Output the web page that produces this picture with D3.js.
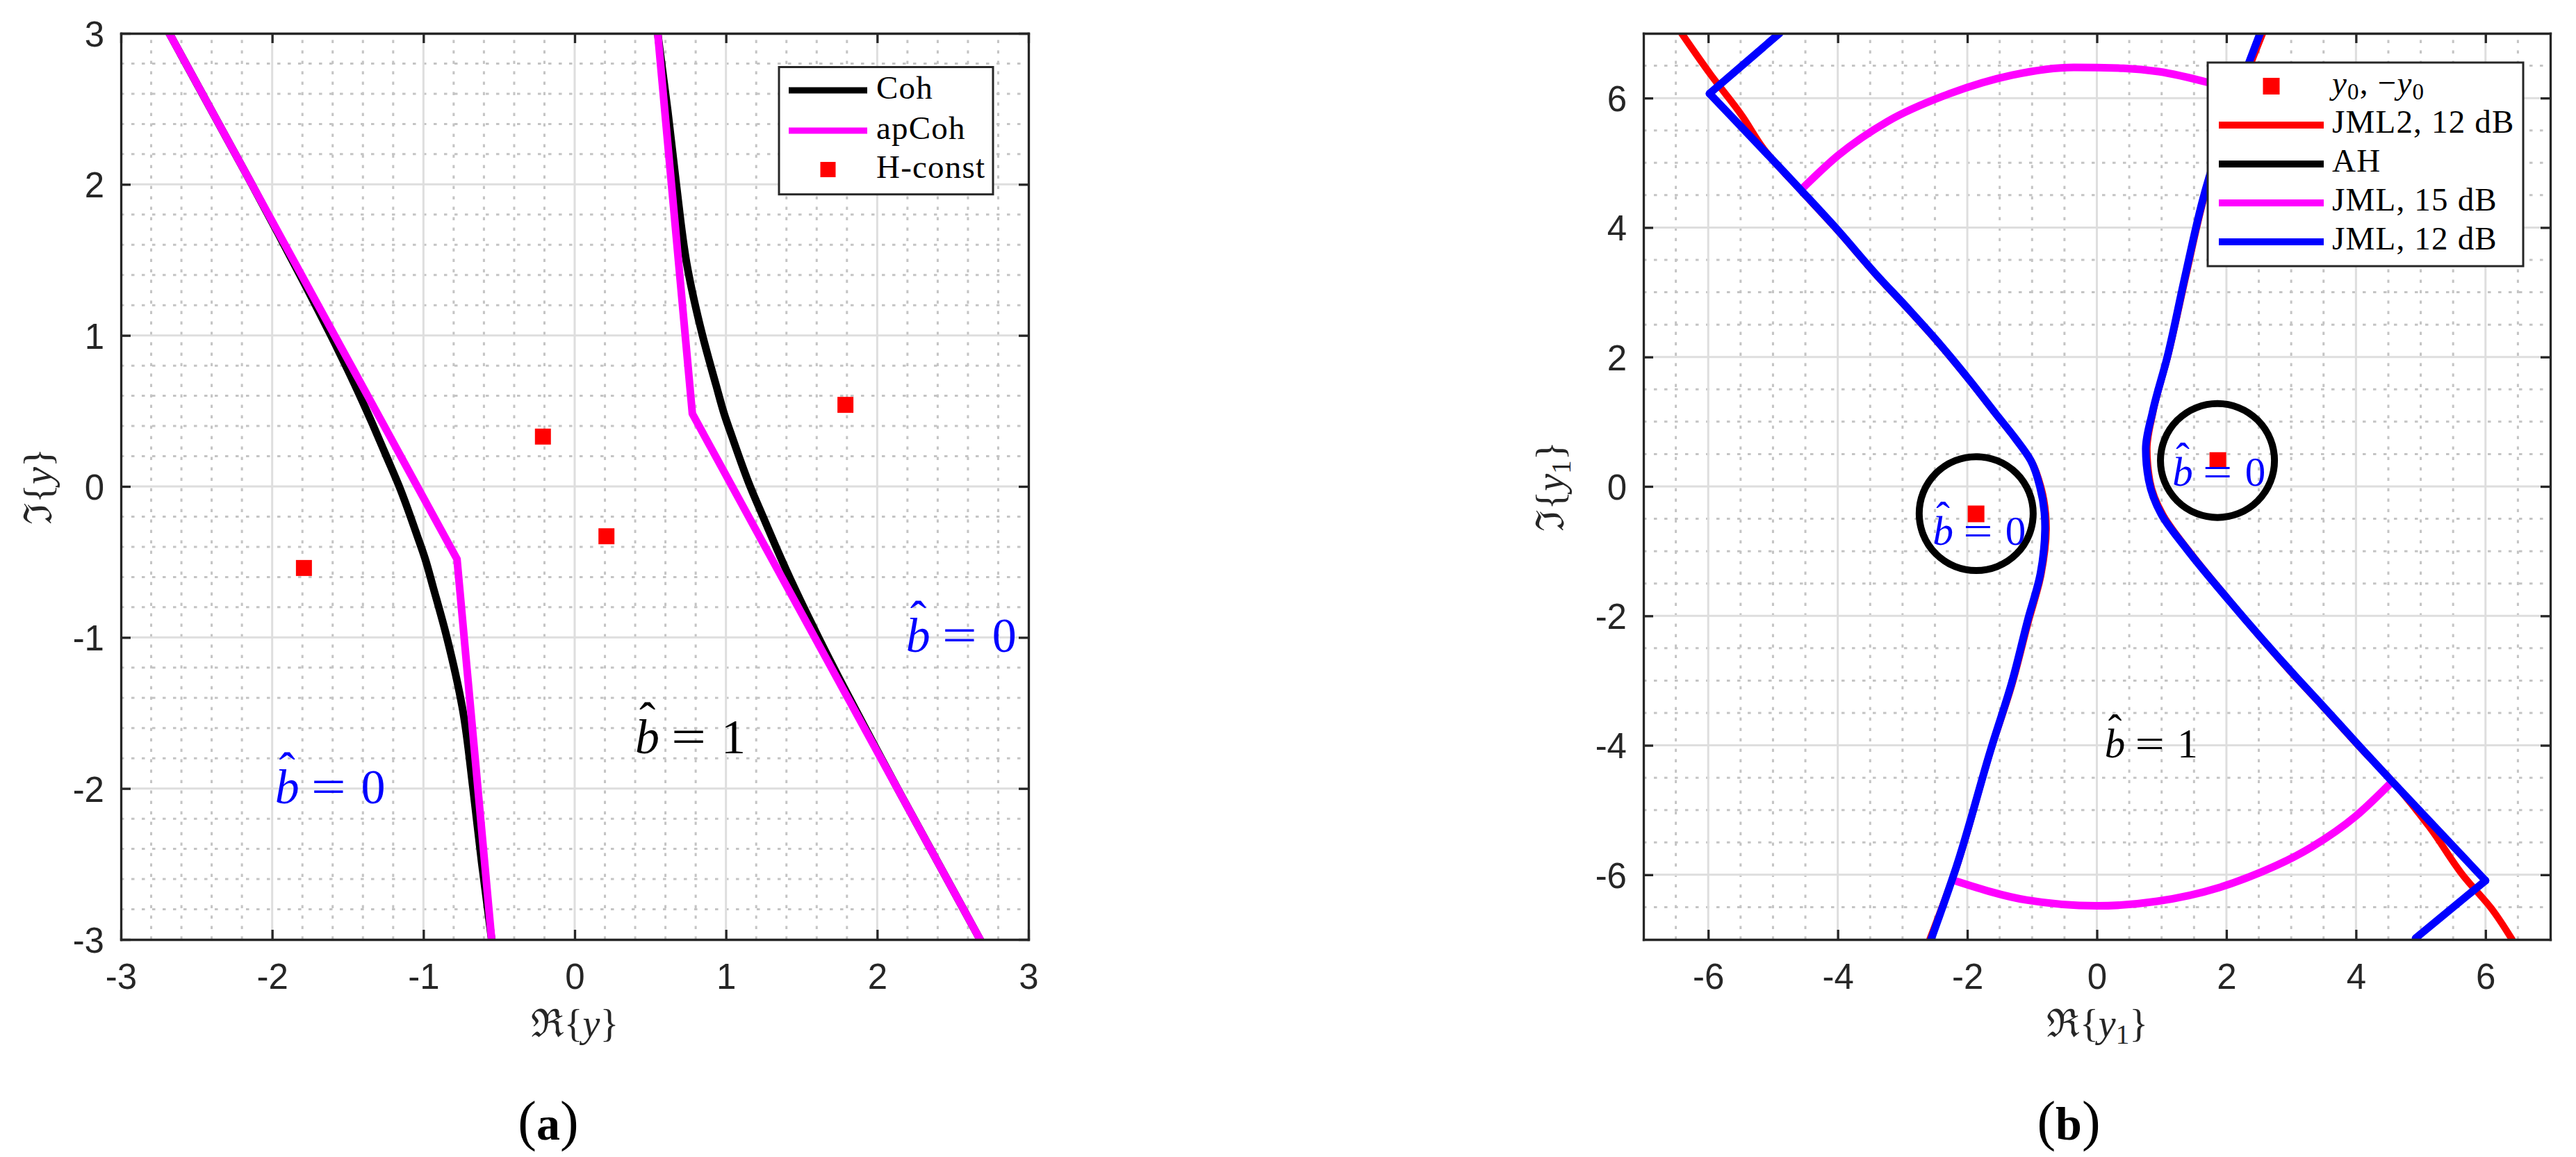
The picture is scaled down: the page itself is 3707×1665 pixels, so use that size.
<!DOCTYPE html>
<html>
<head>
<meta charset="utf-8">
<script src="https://cdn.jsdelivr.net/npm/d3@7"></script>
<style>
body { margin: 0; background: #fff; }
svg { display: block; }
</style>
</head>
<body>
<script>
// ---------- panel (a) data ----------
var ticksA = [-3, -2, -1, 0, 1, 2, 3];
var cohLeft = [[-2.68,3.0],[-2.134,2.0],[-1.953,1.66],[-1.79,1.35],[-1.612,1.0],[-1.455,0.676],[-1.335,0.41],
    [-1.245,0.2],[-1.16,0.0],[-1.04,-0.33],[-0.99,-0.475],[-0.935,-0.67],[-0.845,-1.0],[-0.74,-1.48],
    [-0.672,-2.0],[-0.615,-2.49],[-0.549,-3.0]];
var cohRight = [[0.549,3.0],[0.615,2.49],[0.672,2.0],[0.74,1.48],[0.845,1.0],[0.935,0.67],[0.99,0.475],
    [1.04,0.33],[1.16,0.0],[1.245,-0.2],[1.335,-0.41],[1.455,-0.676],[1.612,-1.0],[1.79,-1.35],[1.953,-1.66],
    [2.134,-2.0],[2.68,-3.0]];
var apCohLeft = [[-2.68,3.0],[-0.778,-0.481],[-0.549,-3.0]];
var apCohRight = [[0.549,3.0],[0.778,0.481],[2.68,-3.0]];
var hConst = [[-1.79,-0.54],[-0.21,0.33],[0.21,-0.33],[1.79,0.54]];
var labelsA = [
    {x: 0.4065, y: -1.767, v: "1", c: "#000000"},
    {x: -1.975, y: -2.097, v: "0", c: "#0000ff"},
    {x: 2.197, y: -1.095, v: "0", c: "#0000ff"}
];

// ---------- panel (b) data ----------
var ticksB = [-6, -4, -2, 0, 2, 4, 6];
var y0pts = [[1.868,0.40],[-1.865,-0.424]];
var jml2Left = [[-6.41,7.0],[-5.96,6.36],[-5.48,5.73],[-5.14,5.21],[-4.55,4.55],[-3.98,3.93],[-3.40,3.26],
    [-2.87,2.69],[-2.44,2.21],[-1.96,1.63],[-1.53,1.08],[-1.245,0.72],[-1.0,0.37],[-0.86,-0.02],[-0.79,-0.42],
    [-0.78,-0.64],[-0.86,-1.36],[-1.06,-2.1],[-1.31,-3.06],[-1.64,-4.08],[-2.18,-5.92],[-2.58,-7.0]];
var jml2Right = [[2.56,7.0],[1.65,4.44],[1.37,3.23],[1.10,2.03],[0.87,1.16],[0.775,0.58],[0.82,0.08],
    [1.02,-0.44],[1.40,-0.97],[2.05,-1.77],[3.07,-2.95],[3.48,-3.39],[4.08,-4.05],[4.6,-4.6],[5.14,-5.27],
    [5.66,-6.02],[6.09,-6.52],[6.41,-7.0]];
var ahCx = [1.862, -1.863];
var ahCy = [0.40, -0.42];
var ahR = [0.88, 0.88];
var jml15Top = [[-4.55,4.6],[-4.0,5.11],[-3.23,5.64],[-2.27,6.07],[-1.31,6.355],[-0.354,6.475],
    [0.41,6.46],[0.953,6.41],[1.72,6.24],[2.2,6.1]];
var jml15Bottom = [[-2.165,-6.10],[-1.088,-6.39],[0.0,-6.48],[0.93,-6.41],[1.88,-6.20],[2.36,-6.03],
    [3.32,-5.57],[3.99,-5.10],[4.56,-4.56]];
var jml12LeftTop = [[-4.9,7.0],[-5.98,6.07]];
var jml12Left = [[-5.98,6.07],[-4.57,4.58],[-4.0,3.96],[-3.42,3.29],[-2.89,2.72],[-2.46,2.24],[-1.98,1.66],
    [-1.55,1.11],[-1.265,0.75],[-1.02,0.40],[-0.88,0.0],[-0.81,-0.40],[-0.80,-0.62],[-0.87,-1.34],
    [-1.065,-2.06],[-1.31,-3.02],[-1.63,-4.04],[-2.17,-5.88],[-2.56,-7.0]];
var jml12Right = [[2.52,7.0],[1.633,4.42],[1.354,3.21],[1.09,2.01],[0.86,1.15],[0.755,0.58],[0.80,0.10],
    [0.995,-0.43],[1.378,-0.956],[2.03,-1.75],[3.054,-2.92],[3.46,-3.36],[4.06,-4.02],[4.56,-4.56],[6.0,-6.09]];
var jml12RightBottom = [[6.0,-6.09],[4.92,-6.98]];
var labelsB = [
    {x: 0.134, y: -4.19, v: "1", c: "#000000"},
    {x: -2.52, y: -0.90, v: "0", c: "#0000ff"},
    {x: 1.18, y: 0.01, v: "0", c: "#0000ff"}
];

// ---------- setup ----------
var W = 3707, H = 1665;
var INK = "#262626";
var SANS = "'Liberation Sans', Arial, sans-serif";
var SERIF = "'Liberation Serif', 'Times New Roman', 'DejaVu Serif', serif";

var svg = d3.select("body").append("svg")
    .attr("width", W)
    .attr("height", H);
svg.append("rect").attr("width", W).attr("height", H).attr("fill", "#fff");
var defs = svg.append("defs");

function makePanel(name, dom, left, right, top, bottom) {
    var p = {};
    p.x = d3.scaleLinear().domain(dom).range([left, right]);
    p.y = d3.scaleLinear().domain(dom).range([bottom, top]);
    p.root = svg.append("g").attr("class", "panel-" + name);
    defs.append("clipPath").attr("id", "clip-" + name)
        .append("rect")
        .attr("x", left).attr("y", top)
        .attr("width", right - left).attr("height", bottom - top);
    p.grid = p.root.append("g");
    p.data = p.root.append("g").attr("clip-path", "url(#clip-" + name + ")");
    p.notes = p.root.append("g");
    p.frame = p.root.append("g");
    return p;
}

function drawGrid(p, majors, minorCount) {
    var d = p.x.domain();
    var inside = function(v) { return v > d[0] + 1e-9 && v < d[1] - 1e-9; };
    var minors = p.x.ticks(minorCount).filter(function(v) {
        return inside(v) && majors.indexOf(v) < 0;
    });
    var X = p.x.range(), Y = p.y.range();
    // minor (dotted)
    p.grid.selectAll(".mv").data(minors).enter().append("line")
        .attr("x1", function(v) { return p.x(v); }).attr("x2", function(v) { return p.x(v); })
        .attr("y1", Y[0]).attr("y2", Y[1]);
    p.grid.selectAll(".mh").data(minors).enter().append("line")
        .attr("y1", function(v) { return p.y(v); }).attr("y2", function(v) { return p.y(v); })
        .attr("x1", X[0]).attr("x2", X[1]);
    p.grid.selectAll("line")
        .attr("stroke", "#c4c4c4")
        .attr("stroke-width", 3)
        .attr("stroke-dasharray", "4.5,10.5");
    // major (solid)
    var maj = majors.filter(inside);
    var mg = p.grid.append("g").attr("stroke", "#dedede").attr("stroke-width", 3);
    mg.selectAll(".v").data(maj).enter().append("line")
        .attr("x1", function(v) { return p.x(v); }).attr("x2", function(v) { return p.x(v); })
        .attr("y1", Y[0]).attr("y2", Y[1]);
    mg.selectAll(".h").data(maj).enter().append("line")
        .attr("y1", function(v) { return p.y(v); }).attr("y2", function(v) { return p.y(v); })
        .attr("x1", X[0]).attr("x2", X[1]);
}

function drawAxes(p, ticks) {
    var X = p.x.range(), Y = p.y.range();
    var fmt = function(d) { return String(d); };
    var specs = [
        {axis: d3.axisBottom(p.x).tickFormat(fmt).tickPadding(35), t: "translate(0," + Y[0] + ")"},
        {axis: d3.axisTop(p.x).tickFormat(""), t: "translate(0," + Y[1] + ")"},
        {axis: d3.axisLeft(p.y).tickFormat(fmt).tickPadding(24), t: "translate(" + X[0] + ",0)"},
        {axis: d3.axisRight(p.y).tickFormat(""), t: "translate(" + X[1] + ",0)"}
    ];
    specs.forEach(function(s) {
        var g = p.frame.append("g")
            .attr("transform", s.t)
            .call(s.axis.tickValues(ticks).tickSizeInner(-14).tickSizeOuter(0));
        g.attr("font-family", SANS).attr("font-size", 51);
        g.select(".domain").attr("stroke", INK).attr("stroke-width", 3.3).attr("stroke-linecap", "square");
        g.selectAll(".tick line").attr("stroke", INK).attr("stroke-width", 3.3);
        g.selectAll(".tick text").attr("fill", INK);
    });
    p.frame.selectAll(".tick text").filter(function() {
        return d3.select(this).attr("dy") === "0.32em";
    }).attr("dy", "0.36em");
}

// mode "y": spline monotone along y, "x": along x, otherwise straight segments
function curve(p, pts, color, width, mode) {
    var c = d3.curveLinear, data = pts;
    if (mode === "y") {
        c = d3.curveMonotoneY;
        data = pts.slice().sort(function(a, b) { return a[1] - b[1]; });
    } else if (mode === "x") {
        c = d3.curveMonotoneX;
        data = pts.slice().sort(function(a, b) { return a[0] - b[0]; });
    }
    var line = d3.line()
        .x(function(d) { return p.x(d[0]); })
        .y(function(d) { return p.y(d[1]); })
        .curve(c);
    p.data.append("path")
        .attr("d", line(data))
        .attr("fill", "none")
        .attr("stroke", color)
        .attr("stroke-width", width)
        .attr("stroke-linejoin", "round")
        .attr("stroke-linecap", "round");
}

function squares(p, pts, size) {
    p.data.selectAll(null).data(pts).enter().append("rect")
        .attr("x", function(d) { return p.x(d[0]) - size / 2; })
        .attr("y", function(d) { return p.y(d[1]) - size / 2; })
        .attr("width", size).attr("height", size)
        .attr("fill", "#ff0000");
}

// b-hat = value, LaTeX-like
function hatLabel(p, lab, size) {
    var X = p.x(lab.x), Y = p.y(lab.y);
    var g = p.notes.append("g")
        .attr("fill", lab.c)
        .attr("font-family", SERIF)
        .attr("font-size", size);
    g.append("text").attr("x", X - 0.02 * size).attr("y", Y)
        .attr("font-style", "italic").text("b");
    g.append("text").attr("x", X + 0.23 * size).attr("y", Y - 0.36 * size)
        .attr("text-anchor", "middle").text("\u02C6");
    g.append("text")
        .attr("transform", "translate(" + (X + 1.08 * size) + "," + Y + ") scale(1.27,1)")
        .attr("text-anchor", "middle").text("=");
    g.append("text").attr("x", X + 2.0 * size).attr("y", Y)
        .attr("text-anchor", "middle").text(lab.v);
}

function legend(p, box, rows, opt) {
    var g = p.frame.append("g");
    g.append("rect")
        .attr("x", box[0]).attr("y", box[1])
        .attr("width", box[2] - box[0]).attr("height", box[3] - box[1])
        .attr("fill", "#fff").attr("stroke", INK).attr("stroke-width", 3);
    rows.forEach(function(r, i) {
        var cy = opt.rowY[i];
        if (r.type === "line") {
            g.append("line")
                .attr("x1", opt.sx0).attr("x2", opt.sx1)
                .attr("y1", cy).attr("y2", cy)
                .attr("stroke", r.color).attr("stroke-width", opt.lw);
        } else {
            var mx = (opt.sx0 + opt.sx1) / 2;
            g.append("rect")
                .attr("x", mx - opt.ms / 2).attr("y", cy - opt.ms / 2)
                .attr("width", opt.ms).attr("height", opt.ms)
                .attr("fill", r.color);
        }
        var t = g.append("text")
            .attr("x", opt.tx).attr("y", cy + opt.base)
            .attr("font-family", SERIF).attr("font-size", 47)
            .attr("letter-spacing", 1.2)
            .attr("fill", "#000");
        r.parts.forEach(function(part) {
            var s = t.append("tspan").text(part.s);
            if (part.it) s.attr("font-style", "italic");
            if (part.sub) s.attr("font-size", 33).attr("dy", 8);
            if (part.up) s.attr("dy", -8);
        });
    });
}

function axisLabel(x, y, rotate, parts, size) {
    var t = svg.append("text")
        .attr("transform", "translate(" + x + "," + y + ")" + (rotate ? " rotate(-90)" : ""))
        .attr("text-anchor", "middle")
        .attr("font-family", SERIF)
        .attr("font-size", size)
        .attr("fill", INK);
    parts.forEach(function(part) {
        var s = t.append("tspan").text(part.s);
        if (part.it) s.attr("font-style", "italic");
        if (part.sub) s.attr("font-size", size * 0.7).attr("dy", size * 0.18);
        if (part.up) s.attr("dy", -size * 0.18);
    });
}

function caption(x, y, letter) {
    var t = svg.append("text")
        .attr("x", x).attr("y", y)
        .attr("text-anchor", "middle")
        .attr("font-family", SERIF)
        .attr("fill", "#000");
    t.append("tspan").attr("font-size", 80).text("(");
    t.append("tspan").attr("font-size", 68).attr("font-weight", "bold").text(letter);
    t.append("tspan").attr("font-size", 80).text(")");
}

// ---------- panel (a) ----------
var pa = makePanel("a", [-3, 3], 174, 1480, 48, 1352);
drawGrid(pa, ticksA, 30);
curve(pa, cohLeft, "#000000", 11, "y");
curve(pa, cohRight, "#000000", 11, "y");
curve(pa, apCohLeft, "#ff00ff", 11);
curve(pa, apCohRight, "#ff00ff", 11);
squares(pa, hConst, 23);
labelsA.forEach(function(l) { hatLabel(pa, l, 70); });
drawAxes(pa, ticksA);
legend(pa, [1121, 96.5, 1429, 279.7], [
    {type: "line", color: "#000000", parts: [{s: "Coh"}]},
    {type: "line", color: "#ff00ff", parts: [{s: "apCoh"}]},
    {type: "mark", color: "#ff0000", parts: [{s: "H-const"}]}
], {rowY: [130, 188, 244], sx0: 1135, sx1: 1248, lw: 9, ms: 22, tx: 1261, base: 12});

// ---------- panel (b) ----------
var pb = makePanel("b", [-7, 7], 2365, 3670, 48, 1352);
drawGrid(pb, ticksB, 28);
squares(pb, y0pts, 24);
curve(pb, jml2Left, "#ff0000", 10, "y");
curve(pb, jml2Right, "#ff0000", 10, "y");
pb.data.selectAll(".ah").data(ahCx).enter().append("ellipse")
    .attr("cx", function(d) { return pb.x(d); })
    .attr("cy", function(d, i) { return pb.y(ahCy[i]); })
    .attr("rx", function(d, i) { return pb.x(ahR[i]) - pb.x(0); })
    .attr("ry", function(d, i) { return pb.y(0) - pb.y(ahR[i]); })
    .attr("fill", "none").attr("stroke", "#000000").attr("stroke-width", 10);
curve(pb, jml15Top, "#ff00ff", 11, "x");
curve(pb, jml15Bottom, "#ff00ff", 11, "x");
curve(pb, jml12LeftTop, "#0000ff", 11);
curve(pb, jml12Left, "#0000ff", 11, "y");
curve(pb, jml12Right, "#0000ff", 11, "y");
curve(pb, jml12RightBottom, "#0000ff", 11);
labelsB.forEach(function(l) { hatLabel(pb, l, 59); });
drawAxes(pb, ticksB);
legend(pb, [3177, 90, 3631, 383], [
    {type: "mark", color: "#ff0000", parts: [{s: "y", it: true}, {s: "0", sub: true}, {s: ", \u2212", up: true},
        {s: "y", it: true}, {s: "0", sub: true}]},
    {type: "line", color: "#ff0000", parts: [{s: "JML2, 12 dB"}]},
    {type: "line", color: "#000000", parts: [{s: "AH"}]},
    {type: "line", color: "#ff00ff", parts: [{s: "JML, 15 dB"}]},
    {type: "line", color: "#0000ff", parts: [{s: "JML, 12 dB"}]}
], {rowY: [124, 180, 236, 292, 348], sx0: 3193, sx1: 3344, lw: 10, ms: 24, tx: 3356, base: 11});

// ---------- axis labels and captions ----------
axisLabel(827, 1492, false, [{s: "\u211C{"}, {s: "y", it: true}, {s: "}"}], 56);
axisLabel(74, 700, true, [{s: "\u2111{"}, {s: "y", it: true}, {s: "}"}], 56);
axisLabel(3018, 1492, false, [{s: "\u211C{"}, {s: "y", it: true}, {s: "1", sub: true}, {s: "}", up: true}], 56);
axisLabel(2250, 700, true, [{s: "\u2111{"}, {s: "y", it: true}, {s: "1", sub: true}, {s: "}", up: true}], 56);
caption(789, 1640, "a");
caption(2977, 1640, "b");
</script>
</body>
</html>
